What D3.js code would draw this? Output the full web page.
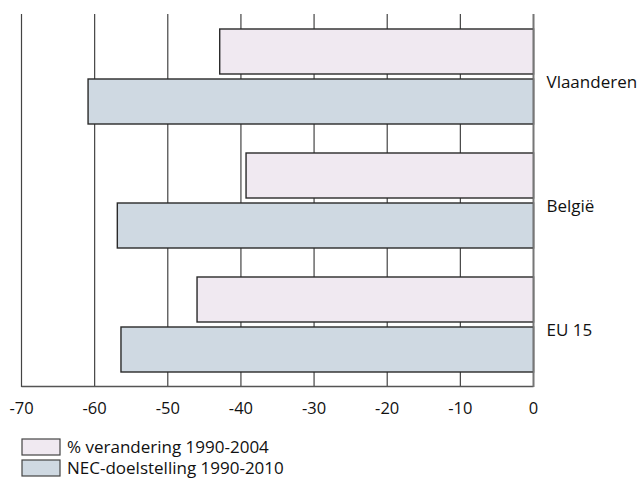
<!DOCTYPE html>
<html>
<head>
<meta charset="utf-8">
<script src="https://cdn.jsdelivr.net/npm/d3@7"></script>
<style>
  html, body { margin: 0; padding: 0; background: #fff; }
  svg { display: block; font-family: "Open Sans", "Noto Sans", sans-serif; }
</style>
</head>
<body>
<svg id="chart" width="643" height="483"></svg>
<script>
const categories = ["Vlaanderen", "België", "EU 15"];
const seriesNames = ["% verandering 1990-2004", "NEC-doelstelling 1990-2010"];
const verandering = [-42.9, -39.3, -46.0];
const doelstelling = [-60.9, -56.9, -56.4];
const tickValues = [-70, -60, -50, -40, -30, -20, -10, 0];
const tickLabels = ["-70", "-60", "-50", "-40", "-30", "-20", "-10", "0"];
const colors = ["#f0e9f1", "#cfd9e2"];

const svg = d3.select("#chart");
const x = d3.scaleLinear().domain([-70, 0]).range([21.5, 533.5]);
const y0 = d3.scaleBand().domain(categories).range([14.5, 386.5]).padding(0);
const y1 = d3.scaleBand().domain(seriesNames).range([0, y0.bandwidth()])
  .paddingInner(0.1).paddingOuter(0.29);

const data = categories.map((c, i) => ({
  cat: c,
  vals: [
    { s: seriesNames[0], v: verandering[i], color: colors[0] },
    { s: seriesNames[1], v: doelstelling[i], color: colors[1] }
  ]
}));

// gridlines
svg.append("g").selectAll("line").data(tickValues).join("line")
  .attr("x1", d => x(d)).attr("x2", d => x(d))
  .attr("y1", 14).attr("y2", 387)
  .attr("stroke", d => d === 0 ? "#777" : "#444")
  .attr("stroke-width", d => d === 0 ? 1.6 : 1.2);

// bottom axis line
svg.append("line")
  .attr("x1", x(-70)).attr("x2", x(0))
  .attr("y1", 386.5).attr("y2", 386.5)
  .attr("stroke", "#555").attr("stroke-width", 1.4);

// bars
const groups = svg.append("g").selectAll("g").data(data).join("g")
  .attr("transform", d => `translate(0,${y0(d.cat)})`);
groups.selectAll("rect").data(d => d.vals).join("rect")
  .attr("x", d => x(d.v))
  .attr("y", d => y1(d.s))
  .attr("width", d => x(0) - x(d.v))
  .attr("height", y1.bandwidth())
  .attr("fill", d => d.color)
  .attr("stroke", "#2a2a2a")
  .attr("stroke-width", 1.4);

// zero line over bars
svg.append("line")
  .attr("x1", x(0)).attr("x2", x(0)).attr("y1", 14).attr("y2", 387)
  .attr("stroke", "#777").attr("stroke-width", 1.6);

// category labels
svg.append("g").selectAll("text").data(categories).join("text")
  .attr("x", x(0) + 13)
  .attr("y", d => y0(d) + y0.bandwidth() / 2 + 11.5)
  .attr("font-size", 17)
  .attr("fill", "#111")
  .text(d => d);

// tick labels
svg.append("g").selectAll("text").data(tickValues).join("text")
  .attr("x", d => x(d))
  .attr("y", 414)
  .attr("text-anchor", "middle")
  .attr("font-size", 16.5)
  .attr("fill", "#111")
  .text((d, i) => tickLabels[i]);

// legend
const legend = svg.append("g").selectAll("g").data(seriesNames).join("g")
  .attr("transform", (d, i) => `translate(22,${439 + i * 21})`);
legend.append("rect")
  .attr("width", 38).attr("height", 16)
  .attr("fill", (d, i) => colors[i])
  .attr("stroke", "#444").attr("stroke-width", 1.2);
legend.append("text")
  .attr("x", 45).attr("y", 14)
  .attr("font-size", 17)
  .attr("fill", "#111")
  .text(d => d);
</script>
</body>
</html>
